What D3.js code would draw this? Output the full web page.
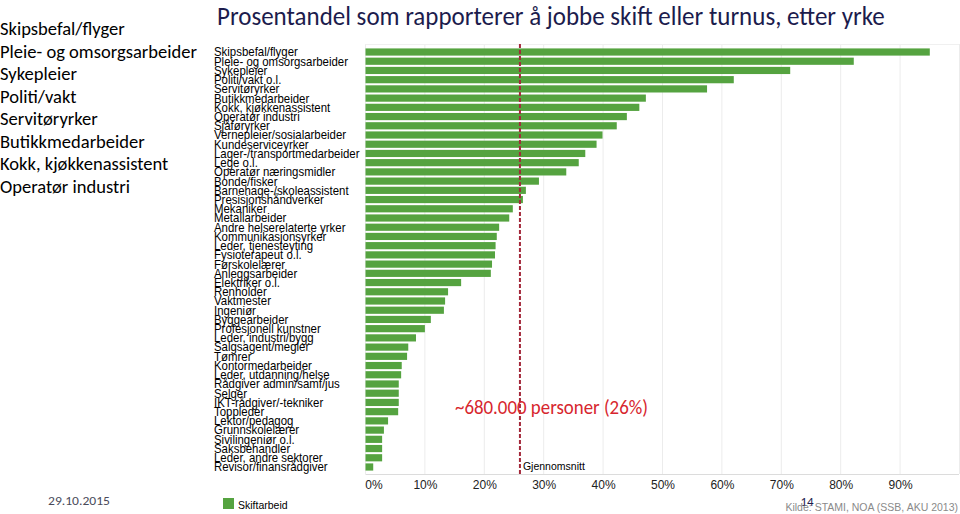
<!DOCTYPE html>
<html><head><meta charset="utf-8">
<script src="https://cdn.jsdelivr.net/npm/d3@7"></script>
<style>body{margin:0;background:#fff}svg{display:block}</style>
</head><body>
<svg id="c" width="960" height="514"></svg>
<script>
const categories = ["Skipsbefal/flyger","Pleie- og omsorgsarbeider","Sykepleier","Politi/vakt o.l.","Servitøryrker","Butikkmedarbeider","Kokk, kjøkkenassistent","Operatør industri","Sjåføryrker","Vernepleier/sosialarbeider","Kundeserviceyrker","Lager-/transportmedarbeider","Lege o.l.","Operatør næringsmidler","Bonde/fisker","Barnehage-/skoleassistent","Presisjonshåndverker","Mekaniker","Metallarbeider","Andre helserelaterte yrker","Kommunikasjonsyrker","Leder, tjenesteyting","Fysioterapeut o.l.","Førskolelærer","Anleggsarbeider","Elektriker o.l.","Renholder","Vaktmester","Ingeniør","Byggearbeider","Profesjonell kunstner","Leder, industri/bygg","Salgsagent/megler","Tømrer","Kontormedarbeider","Leder, utdanning/helse","Rådgiver admin/samf/jus","Selger","IKT-rådgiver/-tekniker","Toppleder","Lektor/pedagog","Grunnskolelærer","Sivilingeniør o.l.","Saksbehandler","Leder, andre sektorer","Revisor/finansrådgiver"];
const shiftPct = [95.0,82.2,71.5,62.0,57.5,47.2,46.1,44.0,42.3,39.9,38.9,37.0,35.9,33.8,29.2,27.0,26.5,24.8,24.2,22.5,22.1,21.9,21.8,21.3,21.1,16.1,13.9,13.4,13.2,11.0,10.0,8.5,7.2,7.0,6.1,6.0,5.6,5.6,5.6,5.5,3.8,3.1,2.8,2.8,2.8,1.3];
const tickValues = [0,10,20,30,40,50,60,70,80,90];
const tickLabels = ["0%","10%","20%","30%","40%","50%","60%","70%","80%","90%"];
const average = 26;
const highlighted = ["Skipsbefal/flyger","Pleie- og omsorgsarbeider","Sykepleier","Politi/vakt","Servitøryrker","Butikkmedarbeider","Kokk, kjøkkenassistent","Operatør industri"];
const title = "Prosentandel som rapporterer å jobbe skift eller turnus, etter yrke";
const annotation = "~680.000 personer (26%)";
const legendLabel = "Skiftarbeid";
const dateText = "29.10.2015";
const pageNo = "14";
const source = "Kilde: STAMI, NOA (SSB, AKU 2013)";

const svg = d3.select("#c");
const green = "#55a340";
const calibri = "Carlito, 'Liberation Sans Narrow', 'Open Sans', sans-serif";
const arial = "'Liberation Sans', Arial, sans-serif";

function fitX(g, node, target, x0){
  const w = node.getComputedTextLength();
  const k = target / w;
  g.attr("transform", `translate(${x0},0) scale(${k},1)`);
}

// Title
const tg = svg.append("g");
const tt = tg.append("text").attr("x",0).attr("y",25).attr("font-family",calibri)
  .attr("font-size",26.5).attr("fill","#1c1c4d").text(title);
fitX(tg, tt.node(), 668, 217);

// Left list
const lg = svg.append("g");
const lt = lg.selectAll("text").data(highlighted).join("text")
  .attr("x",0).attr("y",(d,i)=>35.5+i*22.5).attr("font-family",calibri)
  .attr("font-size",19).attr("fill","#000").text(d=>d);
fitX(lg, lt.nodes()[1], 197, 0);

// Scales
const x = d3.scaleLinear().domain([0,100]).range([365.5,959.5]);
const y = d3.scaleBand().domain(categories).range([47.4,471.6]).paddingInner(0.22).paddingOuter(0.11);

// gridlines
svg.append("g").selectAll("line").data(tickValues.concat([100])).join("line")
  .attr("x1",d=>x(d)).attr("x2",d=>x(d)).attr("y1",44).attr("y2",474)
  .attr("stroke","#ececec").attr("stroke-width",1);
svg.append("line").attr("x1",x(0)).attr("x2",959).attr("y1",44.5).attr("y2",44.5).attr("stroke","#f0f0f0");
svg.append("line").attr("x1",x(0)).attr("x2",959).attr("y1",474.5).attr("y2",474.5).attr("stroke","#dcdcdc");

// bars
svg.append("g").selectAll("rect").data(categories).join("rect")
  .attr("x",x(0)).attr("y",d=>y(d)).attr("height",y.bandwidth())
  .attr("width",(d,i)=>x(shiftPct[i])-x(0)).attr("fill",green);

// labels
const blg = svg.append("g");
const bl = blg.selectAll("text").data(categories).join("text")
  .attr("x",0).attr("y",d=>y(d)+y.bandwidth()/2+4.4)
  .attr("font-family",arial).attr("font-size",12.2)
  .attr("fill","#000").text(d=>d);
fitX(blg, bl.nodes()[1], 134, 214);

// x axis
const axis = d3.axisBottom(x).tickValues(tickValues).tickFormat((d,i)=>tickLabels[i]).tickSize(0).tickPadding(0);
const ag = svg.append("g").attr("transform","translate(0,480)").call(axis);
ag.select(".domain").remove();
ag.selectAll("text").attr("font-family",arial).attr("font-size",12)
  .attr("fill","#222").attr("dy","0.71em")
  .attr("dx",d=>d===0?8:0);

// average line
svg.append("line").attr("x1",x(average)).attr("x2",x(average)).attr("y1",44).attr("y2",474)
  .attr("stroke","#a3283a").attr("stroke-width",2).attr("stroke-dasharray","4,2");
svg.append("text").attr("x",x(average)+3).attr("y",470).attr("font-family",arial)
  .attr("font-size",10.5).attr("fill","#000").text("Gjennomsnitt");

// annotation
const ang = svg.append("g");
const ant = ang.append("text").attr("x",0).attr("y",414).attr("font-family",calibri)
  .attr("font-size",19.5).attr("fill","#d7262e").text(annotation);
fitX(ang, ant.node(), 193, 455);

// legend
svg.append("rect").attr("x",223).attr("y",498).attr("width",11).attr("height",11).attr("fill",green);
svg.append("text").attr("x",238).attr("y",508.5).attr("font-family",arial)
  .attr("font-size",10.5).attr("fill","#000").text(legendLabel);

// footer
const dg = svg.append("g");
const dt = dg.append("text").attr("x",0).attr("y",505).attr("font-family",calibri).attr("font-size",12.5)
  .attr("fill","#4a4a5a").text(dateText);
fitX(dg, dt.node(), 62, 48);
svg.append("text").attr("x",807).attr("y",506).attr("text-anchor","middle").attr("font-family",calibri)
  .attr("font-size",13).attr("fill","#1c1c4d").text(pageNo);
svg.append("text").attr("x",958).attr("y",511).attr("text-anchor","end").attr("font-family",arial)
  .attr("font-size",10.5).attr("fill","#8a8a8a").text(source);
</script>
</body></html>
